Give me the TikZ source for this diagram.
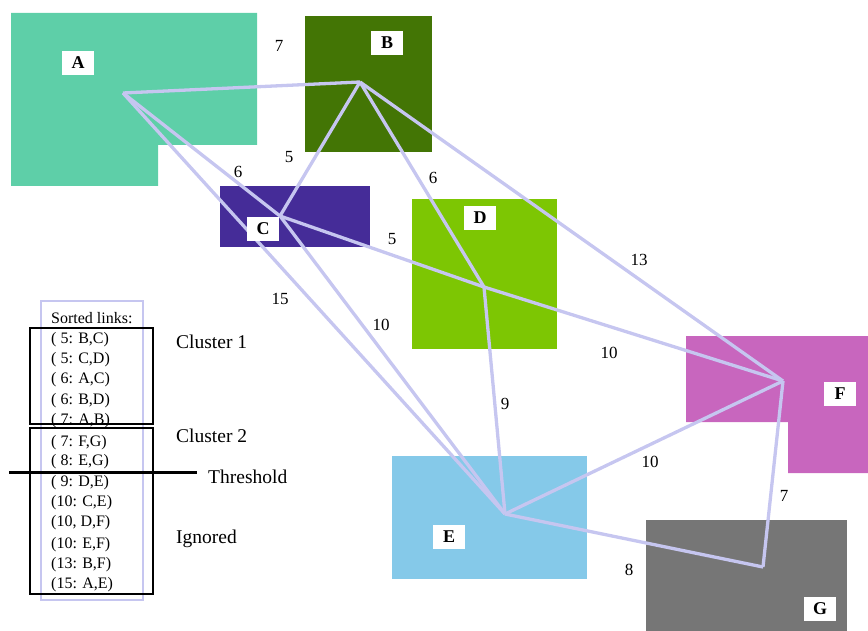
\documentclass[tikz,border=0pt]{standalone}
\usepackage{fontspec}
\setmainfont{Liberation Serif}
\definecolor{cA}{HTML}{5ECFA8}
\definecolor{cB}{HTML}{437505}
\definecolor{cC}{HTML}{452C98}
\definecolor{cD}{HTML}{7DC603}
\definecolor{cE}{HTML}{85C9E9}
\definecolor{cF}{HTML}{C866BE}
\definecolor{cG}{HTML}{767676}
\definecolor{linkc}{HTML}{C6C6F0}
\tikzset{
  lbl/.style={fill=white,font=\fontsize{18}{18}\selectfont\bfseries,minimum width=32pt,minimum height=24pt,inner sep=0pt},
  link/.style={draw=linkc,line width=3.3pt,line join=round},
  wlab/.style={font=\fontsize{17}{17}\selectfont,inner sep=0pt},
  listtxt/.style={font=\fontsize{16}{16}\selectfont,anchor=west,inner sep=0pt},
  side/.style={font=\fontsize{19.5}{19.5}\selectfont,anchor=west,inner sep=0pt},
  blackbox/.style={draw=black,line width=1.8pt}
}
\begin{document}
\begin{tikzpicture}[x=1pt,y=-1pt]
\useasboundingbox (0,0) rectangle (868,631);
% regions
\fill[cA] (11,13) -- (257,13) -- (257,145) -- (158,145) -- (158,186) -- (11,186) -- cycle;
\fill[cB] (305,16) rectangle (432,152);
\fill[cC] (220,186) rectangle (370,247);
\fill[cD] (412,199) rectangle (557,349);
\fill[cE] (392,456) rectangle (587,579);
\fill[cF] (686,336) -- (868,336) -- (868,473) -- (788,473) -- (788,422) -- (686,422) -- cycle;
\fill[cG] (646,520) rectangle (847,631);
% hubs
\coordinate (a) at (123,93);
\coordinate (b) at (360,82);
\coordinate (c) at (280,216);
\coordinate (d) at (484,287);
\coordinate (e) at (505,514);
\coordinate (f) at (783,381);
\coordinate (g) at (763,567);
% links
\draw[link] (a) -- (b);
\draw[link] (a) -- (c);
\draw[link] (a) -- (e);
\draw[link] (b) -- (c);
\draw[link] (b) -- (d);
\draw[link] (b) -- (f);
\draw[link] (c) -- (d);
\draw[link] (c) -- (e);
\draw[link] (d) -- (e);
\draw[link] (d) -- (f);
\draw[link] (e) -- (f);
\draw[link] (e) -- (g);
\draw[link] (f) -- (g);
% region labels
\node[lbl] (la) at (78,63) {A};
\node[lbl] (lb) at (387,43) {B};
\node[lbl] (lc) at (263,229) {C};
\node[lbl] (ld) at (480,218) {D};
\node[lbl] (le) at (449,537) {E};
\node[lbl] (lf) at (840,394) {F};
\node[lbl] (lg) at (820,609) {G};
% link weights
\node[wlab] (w1) at (279,46) {7};
\node[wlab] (w2) at (289,157) {5};
\node[wlab] (w3) at (238,172) {6};
\node[wlab] (w4) at (433,178) {6};
\node[wlab] (w5) at (392,239) {5};
\node[wlab] (w6) at (639,260) {13};
\node[wlab] (w7) at (280,299) {15};
\node[wlab] (w8) at (381,325) {10};
\node[wlab] (w9) at (609,353) {10};
\node[wlab] (w10) at (505,404) {9};
\node[wlab] (w11) at (650,462) {10};
\node[wlab] (w12) at (784,496) {7};
\node[wlab] (w13) at (629,570) {8};
% sorted list
\draw[draw=linkc,line width=1.2pt] (41,301) rectangle (143,600);
\node[listtxt] (h0) at (51,318) {Sorted links:};
\node[listtxt] (l1) at (51,340) {( 5: B,C)};
\node[listtxt] (l2) at (51,360) {( 5: C,D)};
\node[listtxt] (l3) at (51,380) {( 6: A,C)};
\node[listtxt] (l4) at (51,401) {( 6: B,D)};
\node[listtxt] (l5) at (51,421) {( 7: A,B)};
\node[listtxt] (l6) at (51,443) {( 7: F,G)};
\node[listtxt] (l7) at (51,462) {( 8: E,G)};
\node[listtxt] (l8) at (51,483) {( 9: D,E)};
\node[listtxt] (l9) at (51,503) {(10: C,E)};
\node[listtxt] (l10) at (51,523) {(10, D,F)};
\node[listtxt] (l11) at (51,545) {(10: E,F)};
\node[listtxt] (l12) at (51,565) {(13: B,F)};
\node[listtxt] (l13) at (51,585) {(15: A,E)};
\draw[blackbox] (30,328) rectangle (153,424);
\draw[blackbox] (30,428) rectangle (153,472);
\draw[blackbox] (30,472) rectangle (153,594);
\draw[black,line width=3pt] (9,472) -- (197,472);
\node[side] (s1) at (176,342) {Cluster 1};
\node[side] (s2) at (176,436) {Cluster 2};
\node[side] (s3) at (208,477) {Threshold};
\node[side] (s4) at (176,539) {Ignored};
\end{tikzpicture}
\end{document}
